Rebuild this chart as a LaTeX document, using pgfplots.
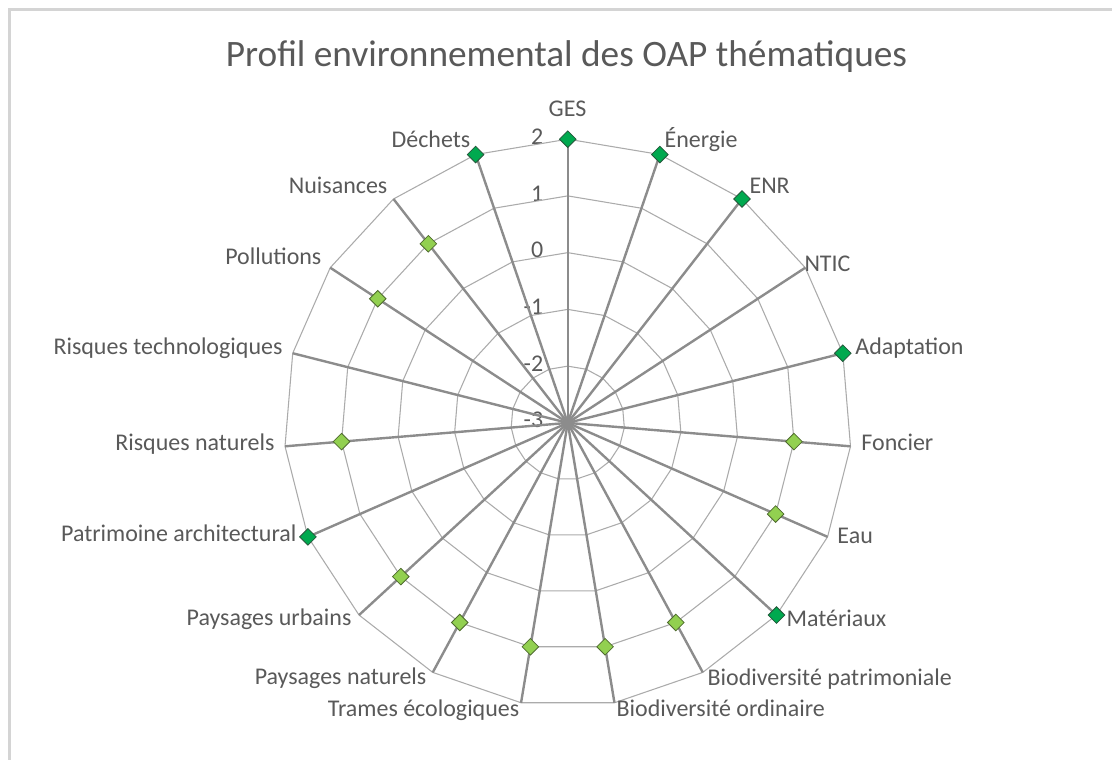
\documentclass[border=0pt]{standalone}
\usepackage{fontspec}
\setmainfont{Carlito}
\usepackage{pgfplots}
\usepackage{pgfplotstable}
\pgfplotsset{compat=1.18}
\definecolor{txtgray}{HTML}{595959}
\definecolor{ringgray}{HTML}{ABABAB}
\definecolor{spokegray}{HTML}{8C8C8C}
\definecolor{framegray}{HTML}{D4D4D4}
\definecolor{greenA}{HTML}{00A94F}
\definecolor{greenAedge}{HTML}{24573A}
\definecolor{greenB}{HTML}{92D050}
\definecolor{greenBedge}{HTML}{4F6B2E}

\tikzset{lab/.style={font=\fontsize{18}{21}\selectfont, text=txtgray, inner sep=0pt, text height=1.55ex, text depth=0.25ex}}

% i = position of the category (0 = GES, clockwise), v = score (-3 .. 2)
\pgfplotstableread{
i v
0 2
1 2
2 2
4 2
7 2
13 2
18 2
}\fort
\pgfplotstableread{
i v
5 1
6 1
8 1
9 1
10 1
11 1
12 1
14 1
16 1
17 1
}\modere

\newcommand{\cx}{568.3}
\newcommand{\cy}{423.3}
\newcommand{\ru}{56.8}

\begin{document}
\begin{tikzpicture}
\begin{axis}[
    x=0.75pt, y=0.75pt,
    xmin=0, xmax=1113, ymin=0, ymax=761,
    y dir=reverse,
    hide axis,
    clip=false,
]
\path (axis cs:0,0) rectangle (axis cs:1113,761);
% frame
\draw[framegray, line width=1.6pt] (axis cs:1113,9.5) -- (axis cs:9.5,9.5) -- (axis cs:9.5,761);
% title
\node[font=\fontsize{28}{32}\selectfont, text=txtgray] at (axis cs:567,57) {Profil environnemental des OAP thématiques};
% value labels (drawn under the spokes)
\node[lab, anchor=east] at (axis cs:544,141) {2};
\node[lab, anchor=east] at (axis cs:544,198) {1};
\node[lab, anchor=east] at (axis cs:544,254) {0};
\node[lab, anchor=east] at (axis cs:544,311) {-1};
\node[lab, anchor=east] at (axis cs:544,368) {-2};
\node[lab, anchor=east] at (axis cs:544,424) {-3};
% rings
\pgfplotsinvokeforeach{1,...,5}{
  \draw[ringgray, line width=0.8pt, shift={(axis cs:\cx,\cy)}]
    plot[samples at={0,...,19}, variable=\t] ({90-\t*360/19}:{#1*\ru*0.75pt});
}
% spokes
\pgfplotsinvokeforeach{0,...,18}{
  \draw[spokegray, line width=1.8pt] (axis cs:\cx,\cy) -- ++({90-#1*360/19}:{5*\ru*0.75pt});
}
% category labels
\node[lab, anchor=center] at (axis cs:568,112) {GES};
\node[lab, anchor=west] at (axis cs:665,144) {Énergie};
\node[lab, anchor=west] at (axis cs:750,190) {ENR};
\node[lab, anchor=west] at (axis cs:805,268) {NTIC};
\node[lab, anchor=west] at (axis cs:856,351) {Adaptation};
\node[lab, anchor=west] at (axis cs:862,447) {Foncier};
\node[lab, anchor=west] at (axis cs:838,540) {Eau};
\node[lab, anchor=west] at (axis cs:787,623) {Matériaux};
\node[lab, anchor=west] at (axis cs:708,682) {Biodiversité patrimoniale};
\node[lab, anchor=west] at (axis cs:617,713) {Biodiversité ordinaire};
\node[lab, anchor=east] at (axis cs:520,713) {Trames écologiques};
\node[lab, anchor=east] at (axis cs:427,681) {Paysages naturels};
\node[lab, anchor=east] at (axis cs:352,622) {Paysages urbains};
\node[lab, anchor=east] at (axis cs:297,538) {Patrimoine architectural};
\node[lab, anchor=east] at (axis cs:275,447) {Risques naturels};
\node[lab, anchor=east] at (axis cs:283,351) {Risques technologiques};
\node[lab, anchor=east] at (axis cs:322,261) {Pollutions};
\node[lab, anchor=east] at (axis cs:388,190) {Nuisances};
\node[lab, anchor=east] at (axis cs:471,144) {Déchets};
% data
\addplot[only marks, mark=square*, mark size=4.4pt,
  mark options={rotate=45, fill=greenB, draw=greenBedge, line width=0.6pt}]
  table[x expr={\cx+(\thisrow{v}+3)*\ru*cos(90-\thisrow{i}*360/19)},
        y expr={\cy-(\thisrow{v}+3)*\ru*sin(90-\thisrow{i}*360/19)}] {\modere};
\addplot[only marks, mark=square*, mark size=4.4pt,
  mark options={rotate=45, fill=greenA, draw=greenAedge, line width=0.6pt}]
  table[x expr={\cx+(\thisrow{v}+3)*\ru*cos(90-\thisrow{i}*360/19)},
        y expr={\cy-(\thisrow{v}+3)*\ru*sin(90-\thisrow{i}*360/19)}] {\fort};
\end{axis}
\end{tikzpicture}
\end{document}
